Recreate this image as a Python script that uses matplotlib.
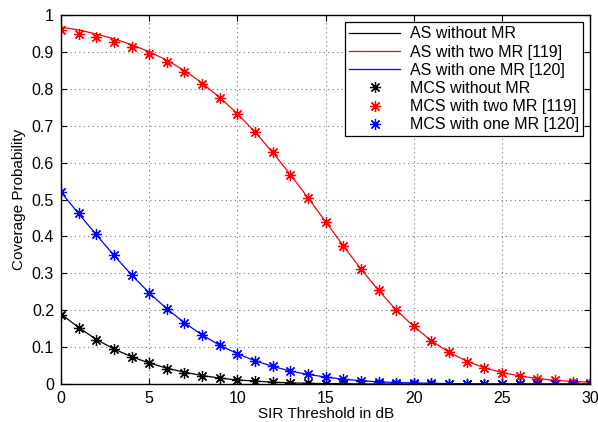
import numpy as np
from matplotlib import pyplot as plt

plt.rcParams['font.family'] = ['Liberation Sans', 'DejaVu Sans']

sir_db = np.arange(0, 31)

# analytic curves (AS)
as_no_mr = [0.190, 0.153, 0.121, 0.095, 0.074, 0.057, 0.043, 0.032, 0.023, 0.016,
            0.011, 0.008, 0.005, 0.003, 0.002, 0.001, 0.001, 0.0, 0.0, 0.0,
            0.0, 0.0, 0.0, 0.0, 0.0, 0.0, 0.0, 0.0, 0.0, 0.0, 0.0]
as_two_mr = [0.968, 0.960, 0.949, 0.936, 0.920, 0.901, 0.878, 0.850, 0.816, 0.777,
             0.733, 0.683, 0.628, 0.568, 0.505, 0.440, 0.375, 0.312, 0.254, 0.201,
             0.156, 0.117, 0.086, 0.062, 0.044, 0.031, 0.022, 0.015, 0.010, 0.007, 0.005]
as_one_mr = [0.520, 0.462, 0.405, 0.349, 0.296, 0.247, 0.204, 0.166, 0.133, 0.105,
             0.082, 0.063, 0.048, 0.035, 0.026, 0.019, 0.013, 0.009, 0.006, 0.004,
             0.003, 0.002, 0.001, 0.001, 0.0, 0.0, 0.0, 0.0, 0.0, 0.0, 0.0]

# simulation points (MCS)
mcs_no_mr = [0.187, 0.153, 0.120, 0.095, 0.074, 0.056, 0.042, 0.031, 0.023, 0.016,
             0.011, 0.008, 0.005, 0.003, 0.002, 0.001, 0.001, 0.0, 0.0, 0.0,
             0.0, 0.0, 0.0, 0.0, 0.0, 0.0, 0.0, 0.0, 0.0, 0.0, 0.0]
mcs_two_mr = [0.960, 0.950, 0.940, 0.928, 0.913, 0.895, 0.872, 0.846, 0.813, 0.775,
              0.732, 0.682, 0.628, 0.568, 0.505, 0.440, 0.375, 0.312, 0.254, 0.200,
              0.156, 0.117, 0.086, 0.061, 0.044, 0.031, 0.022, 0.014, 0.010, 0.006, 0.004]
mcs_one_mr = [0.520, 0.463, 0.406, 0.349, 0.296, 0.247, 0.204, 0.166, 0.133, 0.105,
              0.082, 0.062, 0.048, 0.035, 0.028, 0.020, 0.013, 0.008, 0.006, 0.004,
              0.003, 0.002, 0.001, 0.001, 0.001, 0.0, 0.0, 0.0, 0.0, 0.0, 0.0]

fig = plt.figure(figsize=(5.98, 4.22), dpi=100)
ax = fig.add_axes([0.102, 0.090, 0.885, 0.874])

ax.plot(sir_db, as_no_mr, color='k', lw=0.9, label='AS without MR')
ax.plot(sir_db, as_two_mr, color='r', lw=0.9, label='AS with two MR [119]')
ax.plot(sir_db, as_one_mr, color='b', lw=0.9, label='AS with one MR [120]')

star = (8, 2, 0)
ax.plot(sir_db, mcs_no_mr, ls='none', marker=star, ms=8, mew=0.9, color='k', label='MCS without MR')
ax.plot(sir_db, mcs_two_mr, ls='none', marker=star, ms=8, mew=0.9, color='r', label='MCS with two MR [119]')
ax.plot(sir_db, mcs_one_mr, ls='none', marker=star, ms=8, mew=0.9, color='b', label='MCS with one MR [120]')

ax.set_xlim(0, 30)
ax.set_ylim(0, 1)
ax.set_xticks(np.arange(0, 31, 5))
ax.set_yticks(np.arange(0, 1.01, 0.1))
ax.set_yticklabels(['0', '0.1', '0.2', '0.3', '0.4', '0.5', '0.6', '0.7', '0.8', '0.9', '1'])
ax.grid(True, ls=(0, (1, 3)), color='0.45', lw=0.8)
ax.tick_params(direction='in', top=True, right=True, labelsize=11.5, length=4, pad=5)
for s in ax.spines.values():
    s.set_linewidth(1.0)

ax.set_xlabel('SIR Threshold in dB', fontsize=11, labelpad=1)
ax.set_ylabel('Coverage Probability', fontsize=11, labelpad=4)

leg = ax.legend(loc='upper right', fontsize=11.5, fancybox=False, framealpha=1,
                edgecolor='k', borderaxespad=0.45, handlelength=3.2, labelspacing=0.2,
                borderpad=0.25, handletextpad=0.6)
leg.get_frame().set_linewidth(0.9)

fig.savefig('out.png', dpi=100)
